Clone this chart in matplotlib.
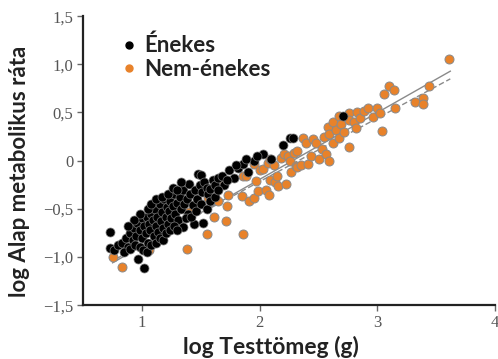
import matplotlib
matplotlib.use("Agg")
import numpy as np
import matplotlib.pyplot as plt
from matplotlib.lines import Line2D
from matplotlib.ticker import FuncFormatter

# log body mass / log BMR, songbirds
song_x = [0.73, 0.73, 0.76, 0.80, 0.83, 0.86, 0.88, 0.90, 0.92, 0.93, 0.95, 0.96,
          0.97, 0.98, 1.00, 1.00, 1.02, 1.02, 1.03, 1.04, 1.05, 1.06, 1.07, 1.08,
          1.09, 1.10, 1.11, 1.12, 1.13, 1.14, 1.15, 1.16, 1.17, 1.18, 1.19, 1.20,
          1.21, 1.22, 1.23, 1.24, 1.25, 1.26, 1.27, 1.28, 1.30, 1.31, 1.32, 1.33,
          1.35, 1.35, 1.36, 1.38, 1.39, 1.40, 1.41, 1.43, 1.44, 1.45, 1.47, 1.48,
          1.49, 1.50, 1.51, 1.52, 1.53, 1.55, 1.56, 1.58, 1.60, 1.62, 1.65, 1.68,
          1.70, 1.74, 1.78, 1.82, 1.86, 1.90, 1.95, 2.03, 2.10, 2.20, 2.26, 2.28,
          2.71,
          0.85, 0.90, 0.94, 0.98, 1.01, 1.04, 1.08, 1.12, 1.15, 1.18, 1.20, 1.24,
          1.27, 1.30, 1.05, 1.08, 0.98, 1.12, 1.17, 1.22, 1.26, 1.30, 1.33, 1.37,
          1.42, 1.46, 1.50, 1.55, 1.58, 1.62, 0.93, 0.88, 1.65, 1.72, 1.80, 1.88,
          1.98]
song_y = [-0.74, -0.91, -0.93, -0.88, -0.85, -0.80, -0.90, -0.75, -0.82, -0.70, -0.78, -0.65,
          -1.02, -0.72, -0.60, -0.80, -1.11, -0.68, -0.75, -0.58, -0.85, -0.66, -0.72, -0.55,
          -0.62, -0.78, -0.50, -0.68, -0.58, -0.74, -0.45, -0.63, -0.53, -0.70, -0.40, -0.58,
          -0.48, -0.66, -0.52, -0.42, -0.60, -0.47, -0.35, -0.55, -0.44, -0.62, -0.38, -0.50,
          -0.69, -0.30, -0.45, -0.40, -0.55, -0.24, -0.35, -0.46, -0.66, -0.30, -0.40, -0.14,
          -0.25, -0.15, -0.33, -0.65, -0.22, -0.28, -0.35, -0.29, -0.20, -0.25, -0.18, -0.16,
          -0.25, -0.10, -0.18, -0.08, -0.03, -0.12, 0.00, 0.07, 0.02, 0.16, 0.24, 0.23,
          0.46,
          -0.95, -0.92, -0.88, -0.90, -0.93, -0.95, -0.88, -0.85, -0.80, -0.82, -0.75, -0.72,
          -0.68, -0.72, -0.50, -0.45, -0.55, -0.40, -0.38, -0.35, -0.28, -0.30, -0.22, -0.60,
          -0.58, -0.52, -0.45, -0.50, -0.42, -0.38, -0.62, -0.68, -0.30, -0.20, -0.05, 0.02,
          0.05]

# non-songbirds
other_x = [0.75, 0.83, 0.91, 1.06, 1.22, 1.23, 1.33, 1.38, 1.40, 1.55, 1.56, 1.61,
           1.65, 1.69, 1.71, 1.72, 1.73, 1.85, 1.86, 1.86, 1.88, 1.91, 1.95, 1.95,
           1.97, 1.99, 2.00, 2.03, 2.05, 2.07, 2.08, 2.09, 2.09, 2.12, 2.13, 2.15,
           2.16, 2.18, 2.21, 2.22, 2.24, 2.26, 2.27, 2.29, 2.31, 2.32, 2.32, 2.35,
           2.37, 2.39, 2.41, 2.44, 2.45, 2.48, 2.50, 2.53, 2.55, 2.56, 2.58, 2.59,
           2.59, 2.62, 2.62, 2.65, 2.67, 2.67, 2.69, 2.72, 2.76, 2.76, 2.76, 2.80,
           2.82, 2.83, 2.85, 2.89, 2.92, 2.96, 3.00, 3.02, 3.04, 3.06, 3.10, 3.14,
           3.15, 3.32, 3.39, 3.39, 3.44, 3.61]
other_y = [-1.00, -1.10, -0.73, -0.93, -0.60, -0.61, -0.43, -0.92, -0.53, -0.76, -0.39, -0.59,
           -0.42, -0.21, -0.63, -0.47, -0.36, -0.37, -0.16, -0.76, -0.16, -0.42, -0.39, -0.03,
           -0.21, -0.31, -0.10, -0.09, -0.30, -0.02, -0.36, -0.20, 0.02, -0.04, -0.22, -0.16,
           -0.26, 0.03, 0.07, -0.24, 0.05, 0.00, -0.12, 0.08, -0.06, 0.10, -0.07, -0.05,
           0.24, 0.18, -0.03, 0.05, 0.22, 0.18, 0.02, 0.12, 0.25, 0.07, 0.35, 0.00,
           0.28, 0.18, 0.40, 0.32, 0.23, 0.46, 0.38, 0.30, 0.49, 0.42, 0.14, 0.40,
           0.34, 0.50, 0.44, 0.52, 0.55, 0.45, 0.55, 0.49, 0.31, 0.69, 0.77, 0.73,
           0.55, 0.61, 0.65, 0.59, 0.78, 1.06]

# fitted lines: (intercept, slope, x start, x end)
fit_solid = (-1.58, 0.693, 0.75, 3.62)
fit_dashed = (-1.533, 0.658, 0.78, 3.62)

ORANGE = "#e8822a"

fig = plt.figure(figsize=(4.98, 3.59), dpi=100)
ax = fig.add_axes([0.167, 0.150, 0.827, 0.805])

for (b0, b1, x0, x1), ls in [(fit_solid, "-"), (fit_dashed, (0, (4, 2)))]:
    xs = np.array([x0, x1])
    ax.plot(xs, b0 + b1 * xs, color="#8a8a8a", lw=1.0, ls=ls, zorder=1)

ax.scatter(other_x, other_y, s=42, color=ORANGE, edgecolor="#8a8a8a", linewidth=0.7, zorder=2)
ax.scatter(song_x, song_y, s=42, color="black", edgecolor="#777777", linewidth=0.5, zorder=3)

ax.set_xlim(0.5, 4.0)
ax.set_ylim(-1.5, 1.5)
ax.set_xticks([1, 2, 3, 4])
ax.set_yticks([-1.5, -1.0, -0.5, 0, 0.5, 1.0, 1.5])


def comma_fmt(v, pos):
    if abs(v) < 1e-9:
        return "0"
    s = f"{abs(v):.1f}".replace(".", ",")
    return ("\u2212" if v < 0 else "") + s


ax.yaxis.set_major_formatter(FuncFormatter(comma_fmt))
ax.xaxis.set_major_formatter(FuncFormatter(lambda v, p: f"{int(v)}"))

for sp in ["top", "right"]:
    ax.spines[sp].set_visible(False)
for sp in ["left", "bottom"]:
    ax.spines[sp].set_linewidth(1.6)
    ax.spines[sp].set_color("#222222")

ax.tick_params(direction="out", length=4, width=1, color="#666666",
               labelcolor="#555555", labelsize=12, pad=3)
for lbl in ax.get_xticklabels() + ax.get_yticklabels():
    lbl.set_family("Liberation Serif")

ax.set_xlabel("log Testtömeg (g)", family="Lato", fontweight="bold",
              fontsize=16.5, color="#222222")
ax.set_ylabel("log Alap metabolikus ráta", family="Lato", fontweight="bold",
              fontsize=16, color="#222222")
ax.xaxis.set_label_coords(0.455, -0.105)
ax.yaxis.set_label_coords(-0.13, 0.464)

handles = [
    Line2D([], [], ls="none", marker="o", ms=5, color="black"),
    Line2D([], [], ls="none", marker="o", ms=5, color=ORANGE),
]
leg = ax.legend(handles, ["Énekes", "Nem-énekes"], loc="upper left",
                bbox_to_anchor=(0.092, 0.935), frameon=False, borderpad=0,
                borderaxespad=0, handlelength=0.7, handletextpad=0.35,
                labelspacing=0.1,
                prop={"family": "Lato", "weight": "bold", "size": 16})
for t in leg.get_texts():
    t.set_color("#222222")

fig.savefig("out.png", dpi=100)
